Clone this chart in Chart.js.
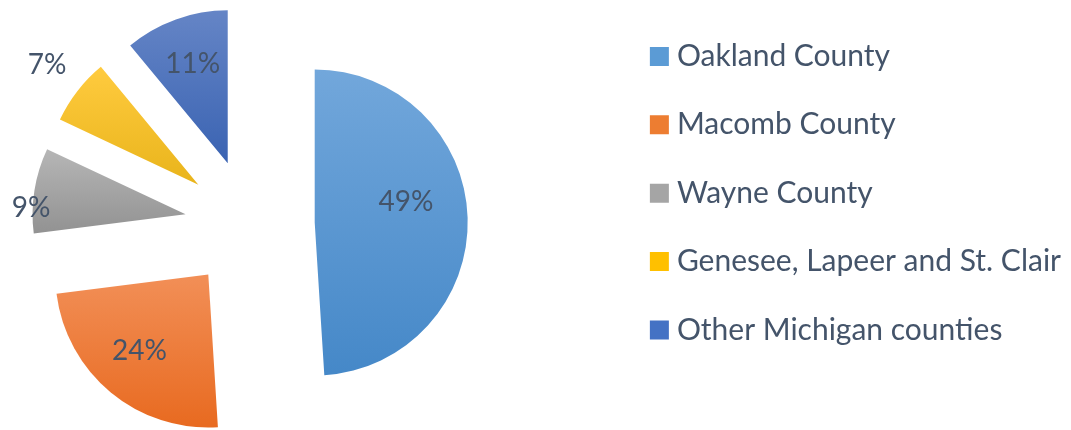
<!DOCTYPE html>
<html><head><meta charset="utf-8">
<script src="https://cdn.jsdelivr.net/npm/chart.js@4/dist/chart.umd.min.js"></script>
<style>
html,body{margin:0;padding:0;background:#fff;overflow:hidden;width:1071px;height:430px;}
#wrap{width:1071px;height:430px;position:relative;overflow:hidden;}
#c{position:absolute;left:-118.8px;top:0;}
</style>
</head><body>
<div id="wrap"><canvas id="c" width="1190" height="446"></canvas></div>
<script>
// ---- data ----
const categories = ['Oakland County', 'Macomb County', 'Wayne County', 'Genesee, Lapeer and St. Clair', 'Other Michigan counties'];
const shares = [49, 24, 9, 7, 11];
const percentLabels = shares.map(v => v + '%');

// ---- styles ----
const topColors = ['#72A7DB', '#F28F57', '#B6B6B6', '#FFCB3F', '#6585C6'];
const bottomColors = ['#4588C8', '#E86A20', '#929292', '#E9B41B', '#3A63B2'];
const flatColors = ['#5B9BD5', '#ED7D31', '#A5A5A5', '#FFC000', '#4472C4'];
const TEXT = '#44546A';
const FONT_FAMILY = 'Lato';
const LEGEND_FONT = 30;
const LABEL_FONT = 28;
const RADIUS = 153;
const EXPLODE = 65;
const LEG_PAD = 38.4, BOX_W = 5, BOX_LINE = 14;
const labelPlacement = [{r:0.61,a:0.44},{r:0.67,a:0.53},{r:1.01,a:0.29},{r:1.26,a:0.52},{r:0.69,a:0.51}];

// ---- layout (canvas coordinates; canvas is shifted left in the page) ----
const CANVAS_W = 1190;
const mctx = document.createElement('canvas').getContext('2d');
mctx.font = 'normal ' + LEGEND_FONT + 'px ' + FONT_FAMILY;
const maxTextW = Math.max(...categories.map(t => mctx.measureText(t).width));
const legendLeft = 739.6;
const legendW = LEG_PAD + BOX_W + LEGEND_FONT / 2 + maxTextW + 10;
const padRight = Math.max(0, CANVAS_W - (legendLeft + legendW));

function sliceGeom(chart, i) {
  const area = chart.chartArea;
  const cx = (area.left + area.right) / 2, cy = (area.top + area.bottom) / 2;
  const total = shares.reduce((a, b) => a + b, 0);
  let cum = 0; for (let k = 0; k < i; k++) cum += shares[k];
  const a0 = -Math.PI / 2 + cum / total * 2 * Math.PI;
  const a1 = a0 + shares[i] / total * 2 * Math.PI;
  const mid = (a0 + a1) / 2;
  return { a0, a1, vx: cx + Math.cos(mid) * EXPLODE, vy: cy + Math.sin(mid) * EXPLODE };
}

function sliceGradient(c) {
  const chart = c.chart, i = c.dataIndex;
  if (!chart.chartArea) return flatColors[i];
  const g0 = sliceGeom(chart, i);
  const ys = [g0.vy, g0.vy + RADIUS * Math.sin(g0.a0), g0.vy + RADIUS * Math.sin(g0.a1)];
  for (const t of [-Math.PI / 2, Math.PI / 2, 3 * Math.PI / 2]) if (t >= g0.a0 && t <= g0.a1) ys.push(g0.vy + RADIUS * Math.sin(t));
  const g = chart.ctx.createLinearGradient(0, Math.min(...ys), 0, Math.max(...ys));
  g.addColorStop(0, topColors[i]);
  g.addColorStop(1, bottomColors[i]);
  return g;
}

// exploded slices: move each arc outward along its own bisector
const explodeSlices = {
  id: 'explodeSlices',
  afterDatasetUpdate(chart, args) {
    args.meta.data.forEach(arc => {
      const mid = (arc.startAngle + arc.endAngle) / 2;
      arc.x += Math.cos(mid) * EXPLODE;
      arc.y += Math.sin(mid) * EXPLODE;
    });
  }
};

const sliceLabels = {
  id: 'sliceLabels',
  afterDatasetsDraw(chart, args, opts) {
    const meta = chart.getDatasetMeta(0);
    const ctx = chart.ctx;
    ctx.save();
    ctx.font = 'normal ' + LABEL_FONT + 'px ' + FONT_FAMILY;
    ctx.fillStyle = TEXT;
    ctx.textAlign = 'center';
    ctx.textBaseline = 'middle';
    meta.data.forEach((arc, i) => {
      const p = arc.getProps(['x', 'y', 'startAngle', 'endAngle', 'outerRadius'], true);
      const pl = opts.placement[i];
      const ang = p.startAngle + (p.endAngle - p.startAngle) * pl.a;
      ctx.fillText(percentLabels[i], p.x + Math.cos(ang) * p.outerRadius * pl.r, p.y + Math.sin(ang) * p.outerRadius * pl.r);
    });
    ctx.restore();
  }
};

new Chart(document.getElementById('c'), {
  type: 'pie',
  data: {
    labels: categories,
    datasets: [{
      data: shares,
      backgroundColor: sliceGradient,
      borderWidth: 0,
      offset: 0,
      hoverOffset: 0
    }]
  },
  options: {
    responsive: false,
    animation: false,
    radius: RADIUS,
    layout: { padding: { left: 0, right: padRight, top: 3, bottom: 0 } },
    plugins: {
      tooltip: { enabled: false },
      sliceLabels: { placement: labelPlacement },
      legend: {
        position: 'right',
        align: 'start',
        labels: {
          boxWidth: BOX_W,
          boxHeight: BOX_W,
          padding: LEG_PAD,
          color: TEXT,
          font: { family: FONT_FAMILY, size: LEGEND_FONT },
          generateLabels: () => categories.map((t, i) => ({
            text: t, fillStyle: flatColors[i], strokeStyle: flatColors[i],
            lineWidth: BOX_LINE, lineJoin: 'miter', fontColor: TEXT, hidden: false, index: i
          }))
        }
      }
    }
  },
  plugins: [explodeSlices, sliceLabels]
});
</script>
</body></html>
